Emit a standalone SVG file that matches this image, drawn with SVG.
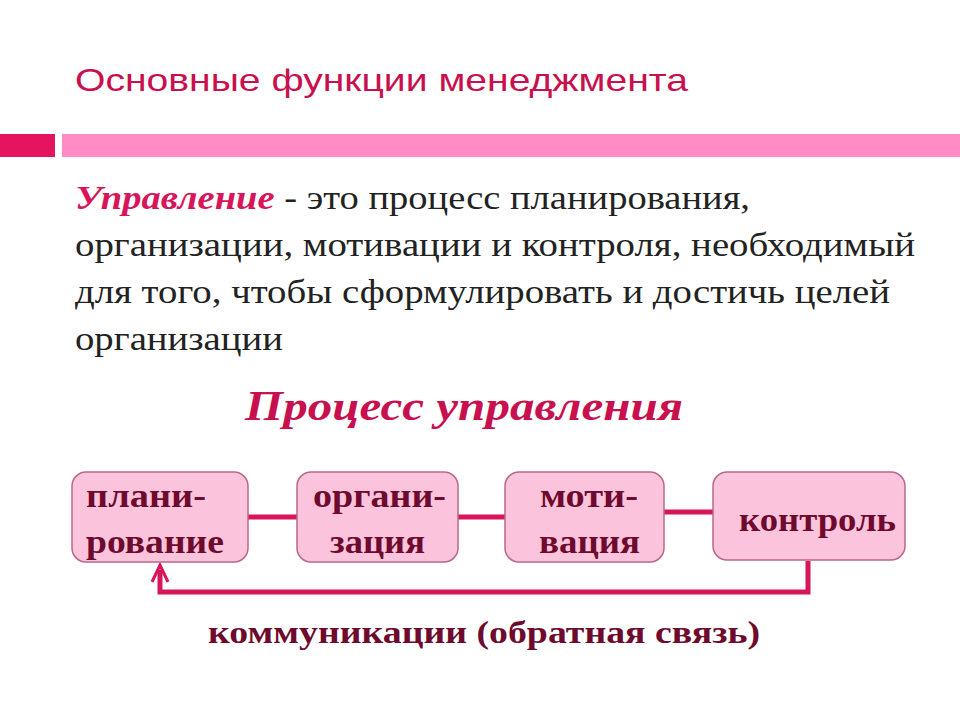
<svg xmlns="http://www.w3.org/2000/svg" width="960" height="720" viewBox="0 0 960 720">
<style>
.box{fill:#fcc4dc;stroke:#b8688a;stroke-width:1.5}
.bt{font-family:"Liberation Serif",serif;font-weight:bold;font-size:34px;fill:#6e0a2e}
.body{font-family:"Liberation Serif",serif;font-size:34px;fill:#222}
.ln{stroke:#d8145a;stroke-width:5;fill:none}
</style>
<rect width="960" height="720" fill="#fff"/>
<text x="75" y="91" font-family="Liberation Sans,sans-serif" font-size="32" fill="#c8104e" textLength="613" lengthAdjust="spacingAndGlyphs">Основные функции менеджмента</text>
<rect x="0" y="134" width="55" height="23" fill="#e4145e"/>
<rect x="62" y="134" width="898" height="23" fill="#ff8cc4"/>
<text class="body" x="75" y="209" textLength="675" lengthAdjust="spacingAndGlyphs"><tspan fill="#d8145a" font-style="italic" font-weight="bold">Управление</tspan> - это процесс планирования,</text>
<text class="body" x="75" y="256" textLength="840" lengthAdjust="spacingAndGlyphs">организации, мотивации и контроля, необходимый</text>
<text class="body" x="75" y="303" textLength="815" lengthAdjust="spacingAndGlyphs">для того, чтобы сформулировать и достичь целей</text>
<text class="body" x="75" y="350" textLength="208" lengthAdjust="spacingAndGlyphs">организации</text>
<text x="245" y="420" font-family="Liberation Serif,serif" font-size="42" font-weight="bold" font-style="italic" fill="#c8104e" textLength="438" lengthAdjust="spacingAndGlyphs">Процесс  управления</text>
<g id="connectors">
<path class="ln" d="M248 517H297M458 517H505M664 512H713"/>
<path class="ln" d="M808 561V592H160V570"/>
<path d="M152 582L160 565L168 582" fill="none" stroke="#d8145a" stroke-width="3"/>
</g>
<g id="n1"><rect class="box" x="72" y="472" width="176" height="90" rx="14"/>
<text class="bt" x="86" y="507" textLength="120" lengthAdjust="spacingAndGlyphs">плани-</text><text class="bt" x="86" y="553" textLength="138" lengthAdjust="spacingAndGlyphs">рование</text></g>
<g id="n2"><rect class="box" x="297" y="472" width="161" height="90" rx="14"/>
<text class="bt" x="313" y="507" textLength="133" lengthAdjust="spacingAndGlyphs">органи-</text><text class="bt" x="330" y="553" textLength="95" lengthAdjust="spacingAndGlyphs">зация</text></g>
<g id="n3"><rect class="box" x="505" y="472" width="159" height="90" rx="14"/>
<text class="bt" x="540" y="507" textLength="98" lengthAdjust="spacingAndGlyphs">моти-</text><text class="bt" x="539" y="553" textLength="101" lengthAdjust="spacingAndGlyphs">вация</text></g>
<g id="n4"><rect class="box" x="713" y="472" width="192" height="88" rx="14"/>
<text class="bt" x="739" y="531" textLength="157" lengthAdjust="spacingAndGlyphs">контроль</text></g>
<text x="208" y="643" font-family="Liberation Serif,serif" font-size="31" font-weight="bold" fill="#6e0a2e" textLength="552" lengthAdjust="spacingAndGlyphs">коммуникации  (обратная связь)</text>
</svg>
